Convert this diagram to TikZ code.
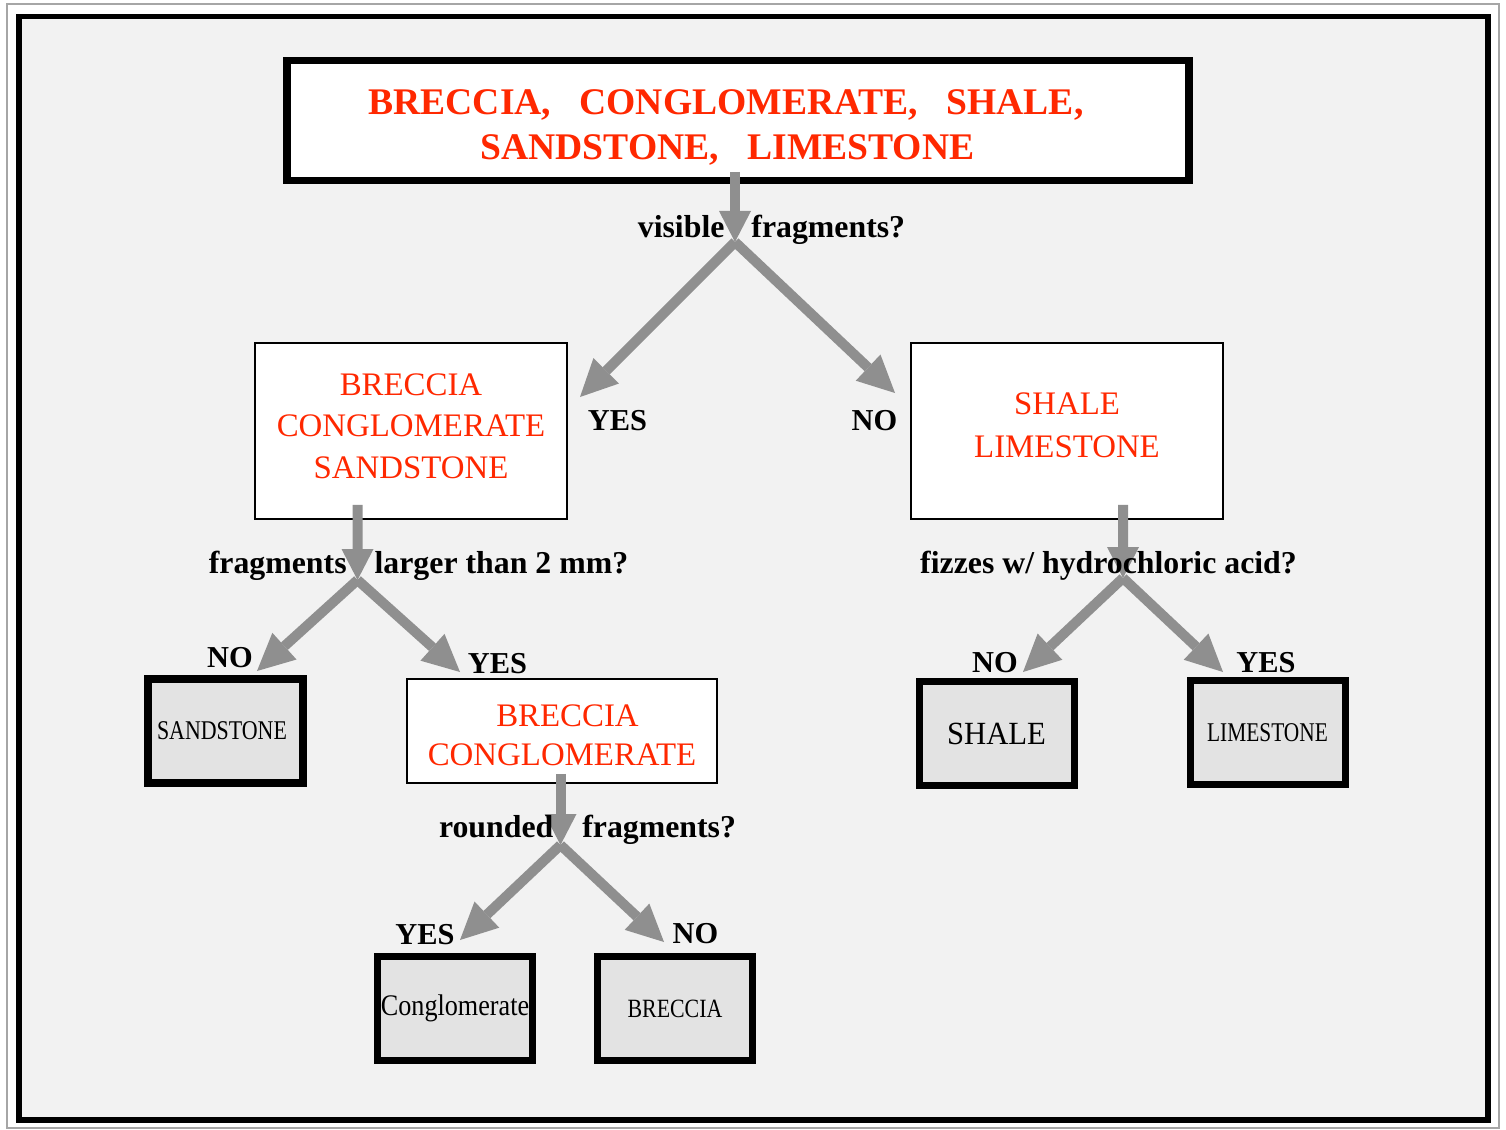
\documentclass[tikz,border=0pt]{standalone}
\usepackage{fontspec}
\setmainfont{Liberation Serif}
\usetikzlibrary{arrows.meta, positioning}

\definecolor{rockred}{RGB}{255,40,0}
\definecolor{arrowgray}{RGB}{143,143,143}
\definecolor{resultgray}{RGB}{227,227,227}
\definecolor{paper}{RGB}{242,242,242}

\newcommand{\squeeze}[2]{\scalebox{#1}[1]{#2}}

\begin{document}
\begin{tikzpicture}[
    question/.style={font=\fontsize{18.1}{21}\selectfont\bfseries, anchor=base, inner sep=0pt},
    answer/.style={font=\fontsize{17.3}{20}\selectfont\bfseries, anchor=base, inner sep=0pt},
    groupbox/.style={draw, line width=1.1pt, fill=white, text=rockred, align=center,
        font=\fontsize{18.7}{23.5}\selectfont, minimum width=6.24cm, minimum height=3.52cm, inner sep=0pt},
    resultbox/.style={draw, line width=4pt, fill=resultgray, minimum width=3.1cm, minimum height=2.08cm, inner sep=0pt},
    downarrow/.style={draw=arrowgray, line width=0.2cm, -{Triangle[length=0.62cm, width=0.64cm, line width=0pt]}},
    forkarrow/.style={draw=arrowgray, line width=0.2cm, -{Triangle[length=0.74cm, width=0.72cm, line width=0pt]}}
]
    \useasboundingbox (0,0) rectangle (30.12,-22.58);
    \draw[gray!70, line width=0.8pt] (0.14,-0.08) rectangle (29.98,-22.56);
    \draw[line width=3.4pt, fill=paper] (0.38,-0.33) rectangle (29.75,-22.40);

    % boxes
    \node[draw, line width=4.5pt, fill=white, text=rockred, align=center, inner sep=0pt,
        font=\fontsize{21.4}{25.5}\selectfont\bfseries, minimum width=18.04cm, minimum height=2.4cm]
        (all) at (14.76,-2.41)
        {\rule{0pt}{22.5pt}BRECCIA,\ \ \ CONGLOMERATE,\ \ \ SHALE,\hspace*{0.48cm}\\SANDSTONE,\ \ \ LIMESTONE\hspace*{0.42cm}};
    \node[groupbox] (bcs) at (8.22,-8.62) {BRECCIA\\CONGLOMERATE\\SANDSTONE\rule[-0.2cm]{0pt}{0pt}};
    \node[groupbox, font=\fontsize{18.7}{24.4}\selectfont] (sl) at (21.34,-8.62) {SHALE\\LIMESTONE\rule[-0.24cm]{0pt}{0pt}};
    \node[groupbox, font=\fontsize{18.7}{22.1}\selectfont, minimum width=6.2cm, minimum height=2.08cm]
        (bc) at (11.24,-14.62) {\rule{0pt}{17.5pt}\hspace*{0.22cm}BRECCIA\\CONGLOMERATE};

    \node[resultbox, font=\fontsize{15.4}{18}\selectfont] (sand) at (4.51,-14.62) {\squeeze{0.81}{SANDSTONE}\hspace*{0.14cm}};
    \node[resultbox, font=\fontsize{18.4}{22}\selectfont] (shale) at (19.93,-14.67) {\squeeze{0.95}{SHALE}};
    \node[resultbox, font=\fontsize{15.4}{18}\selectfont] (lime) at (25.35,-14.65) {\squeeze{0.79}{LIMESTONE}};
    \node[resultbox, font=\fontsize{17}{20}\selectfont] (cong) at (9.10,-20.17) {\squeeze{0.876}{Conglomerate}};
    \node[resultbox, font=\fontsize{15}{18}\selectfont] (brec) at (13.50,-20.17) {\squeeze{0.83}{BRECCIA}};

    % forks
    \coordinate (j1) at (14.70,-4.84);
    \coordinate (j2) at (7.15,-11.60);
    \coordinate (j3) at (22.46,-11.56);
    \coordinate (j4) at (11.21,-16.90);
    \coordinate (yes1tip) at (11.60,-7.94);
    \coordinate (no1tip) at (17.90,-7.86);
    \coordinate (no2tip) at (5.14,-13.42);
    \coordinate (yes2tip) at (9.20,-13.44);
    \coordinate (no3tip) at (20.46,-13.44);
    \coordinate (yes3tip) at (24.46,-13.44);
    \coordinate (yes4tip) at (9.20,-18.80);
    \coordinate (no4tip) at (13.28,-18.84);

    \draw[downarrow] ([xshift=-0.06cm, yshift=0.25cm]all.south) -- (j1);
    \draw[forkarrow] (j1) -- (yes1tip);
    \draw[forkarrow] (j1) -- (no1tip);

    \draw[downarrow] ([xshift=-1.07cm, yshift=0.3cm]bcs.south) -- (j2);
    \draw[forkarrow] (j2) -- (no2tip);
    \draw[forkarrow] (j2) -- (yes2tip);

    \draw[downarrow] ([xshift=1.12cm, yshift=0.3cm]sl.south) -- (j3);
    \draw[forkarrow] (j3) -- (no3tip);
    \draw[forkarrow] (j3) -- (yes3tip);

    \draw[downarrow] ([xshift=-0.03cm, yshift=0.2cm]bc.south) -- (j4);
    \draw[forkarrow] (j4) -- (yes4tip);
    \draw[forkarrow] (j4) -- (no4tip);

    % labels
    \node[question] (q1) at (15.43,-4.76) {visible\hspace{0.54cm}fragments?};
    \node[question] (q2) at (8.37,-11.46) {fragments\hspace{0.56cm}larger than 2 mm?};
    \node[question] (q3) at (22.17,-11.46) {fizzes w/ hydrochloric acid?};
    \node[question] (q4) at (11.75,-16.74) {rounded\hspace{0.58cm}fragments?};

    \node[answer] (yes1) at (12.35,-8.60) {YES};
    \node[answer] (no1) at (17.49,-8.60) {NO};
    \node[answer] (no2) at (4.60,-13.34) {NO};
    \node[answer] (yes2) at (9.95,-13.46) {YES};
    \node[answer] (no3) at (19.90,-13.44) {NO};
    \node[answer] (yes3) at (25.32,-13.44) {YES};
    \node[answer] (yes4) at (8.50,-18.88) {YES};
    \node[answer] (no4) at (13.91,-18.86) {NO};
\end{tikzpicture}
\end{document}
